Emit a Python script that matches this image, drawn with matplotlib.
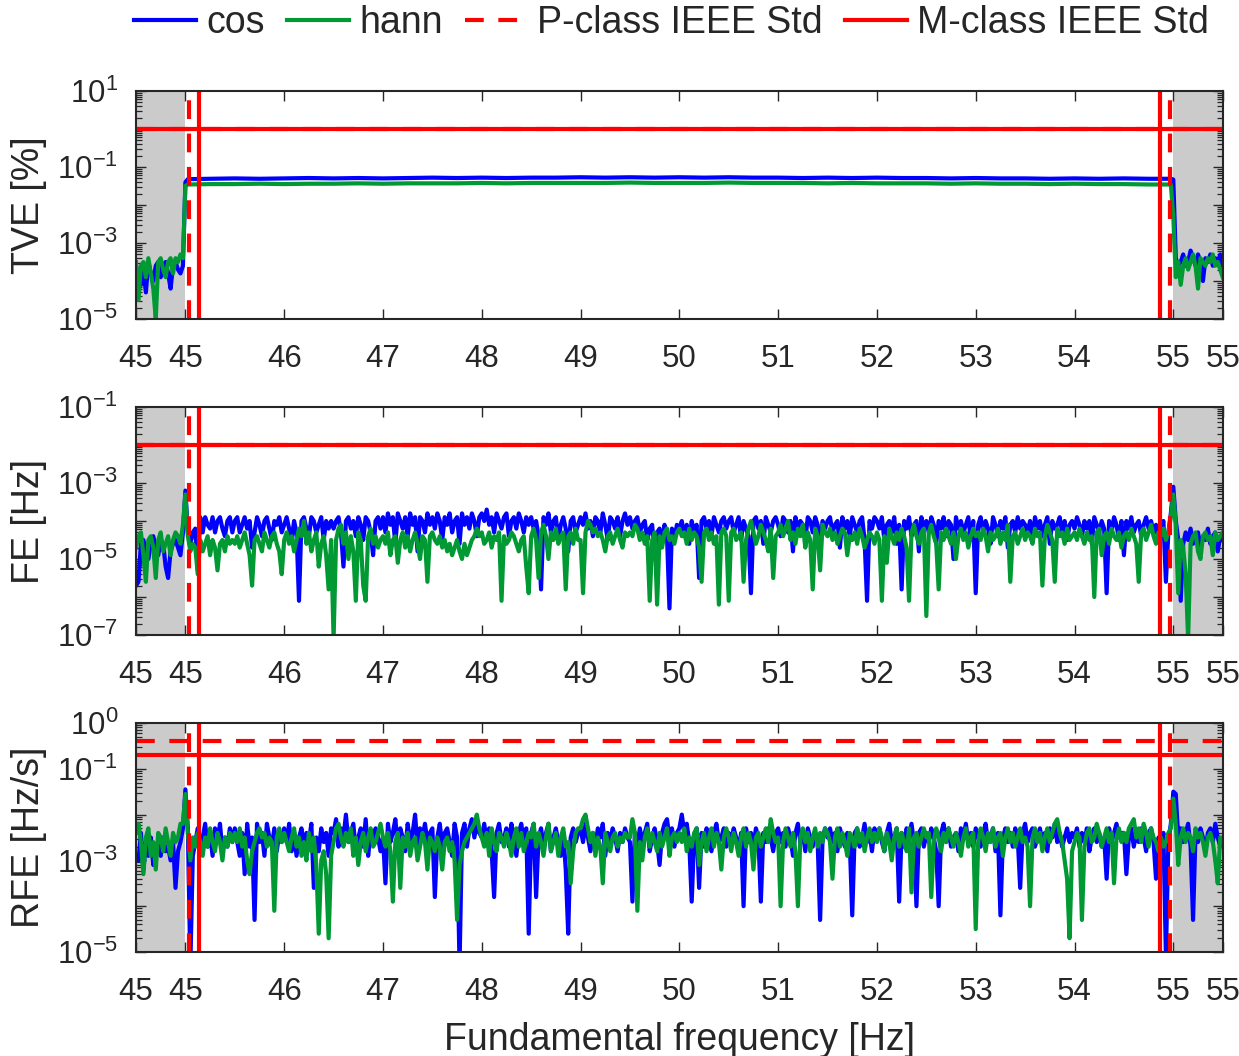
import numpy as np
import matplotlib
matplotlib.use("Agg")
import matplotlib.pyplot as plt
from matplotlib.ticker import LogLocator, NullFormatter

plt.rcParams['font.family'] = ['Liberation Sans', 'DejaVu Sans']
plt.rcParams['mathtext.fontset'] = 'custom'
plt.rcParams['mathtext.rm'] = 'Liberation Sans'
plt.rcParams['mathtext.it'] = 'Liberation Sans:italic'
plt.rcParams['mathtext.bf'] = 'Liberation Sans:bold'
plt.rcParams['mathtext.default'] = 'regular'

# ---------------------------------------------------------------- data
# frequency sweep (Hz), 0.025 Hz resolution, used for FE and RFE
freq = np.round(np.arange(44.5, 55.5 + 1e-9, 0.025), 3)

# TVE is sampled densely inside the excluded bands, coarsely on the plateau
tve_freq = np.round(np.concatenate([
    np.arange(44.5, 45.0 + 1e-9, 0.025), [45.025],
    np.arange(45.25, 54.75 + 1e-9, 0.25), [54.975],
    np.arange(55.0, 55.5 + 1e-9, 0.025)]), 3)

# log10 of TVE [%]
tve_cos_exp = [
    -3.6, -3.9, -4.1, -3.7, -4.3, -3.5, -3.8, -4.0, -3.6, -3.5,
    -3.9, -3.6, -3.5, -3.8, -4.2, -3.6, -3.5, -3.7, -3.8, -3.6, -1.4,
    -1.32, -1.31, -1.30, -1.31, -1.30, -1.29, -1.30, -1.29, -1.30, -1.29,
    -1.28, -1.29, -1.28, -1.29, -1.28, -1.28, -1.27, -1.28, -1.27, -1.28,
    -1.27, -1.28, -1.27, -1.28, -1.28, -1.29, -1.28, -1.29, -1.28, -1.29,
    -1.29, -1.30, -1.29, -1.30, -1.30, -1.31, -1.30, -1.31, -1.30, -1.31, -1.31,
    -1.33, -3.4, -3.6, -3.5, -3.3, -3.6, -3.5, -3.2, -3.4, -3.6,
    -3.3, -3.5, -4.0, -3.4, -3.5, -3.3, -3.6, -3.4, -3.5, -3.3, -3.6]
tve_hann_exp = [
    -3.5, -4.5, -3.6, -3.5, -3.9, -3.4, -3.8, -4.2, -5.0, -3.5,
    -3.4, -3.7, -3.9, -3.5, -3.4, -3.8, -3.4, -3.5, -3.3, -3.4, -1.5,
    -1.46, -1.45, -1.45, -1.44, -1.45, -1.44, -1.44, -1.43, -1.44, -1.43,
    -1.43, -1.43, -1.42, -1.43, -1.42, -1.42, -1.42, -1.42, -1.41, -1.42,
    -1.42, -1.42, -1.41, -1.42, -1.42, -1.42, -1.43, -1.42, -1.43, -1.43,
    -1.43, -1.44, -1.43, -1.44, -1.44, -1.45, -1.44, -1.45, -1.45, -1.46, -1.46,
    -2.3, -3.9, -3.5, -4.1, -3.6, -3.4, -3.7, -3.5, -3.3, -3.6,
    -4.2, -3.4, -3.5, -3.6, -3.4, -3.5, -3.3, -3.6, -3.5, -3.7, -3.9]

# log10 of FE [Hz]
fe_cos_exp = [
    -5.7, -5.6, -4.6, -4.5, -4.8, -5.0, -4.6, -4.4, -4.7, -4.9, -4.5, -4.6, -5.2, -5.5, -4.8, -4.6, -4.5, -4.7, -4.9, -4.3,
    -3.2, -4.3, -4.6, -4.3, -4.2, -5.3, -3.9, -4.3, -3.9, -4.1, -4.2, -3.9, -4.3, -4.0, -3.9, -4.2, -4.4, -4.0, -3.9, -4.3,
    -4.0, -3.9, -4.3, -4.1, -3.9, -4.2, -4.0, -4.7, -4.3, -3.9, -4.1, -4.4, -4.0, -3.9, -4.2, -4.5, -4.0, -4.1, -3.9, -4.3,
    -4.1, -3.9, -4.2, -4.5, -4.0, -4.3, -6.1, -4.0, -3.9, -4.2, -4.4, -3.9, -4.0, -4.3, -4.1, -3.9, -4.5, -4.0, -4.2, -4.0,
    -4.2, -4.0, -3.9, -4.3, -5.2, -4.0, -3.9, -4.2, -4.0, -4.4, -3.9, -4.1, -4.5, -3.9, -4.0, -4.3, -4.9, -4.0, -3.9, -4.2,
    -3.9, -4.3, -3.8, -4.1, -3.9, -4.6, -3.8, -4.0, -4.2, -3.9, -4.4, -3.8, -4.1, -3.9, -4.8, -3.9, -4.0, -4.3, -3.8, -4.1,
    -3.9, -4.2, -3.8, -4.0, -4.5, -3.9, -4.1, -3.8, -4.3, -4.0, -3.9, -4.6, -3.8, -4.1, -3.9, -4.2, -3.8, -4.0, -4.4, -3.9,
    -3.8, -4.0, -3.7, -4.1, -3.9, -4.3, -3.8, -4.0, -4.2, -3.9, -3.8, -4.4, -4.0, -3.9, -4.2, -3.8, -4.0, -4.3, -3.9, -4.1,
    -3.9, -4.2, -4.0, -4.4, -5.8, -3.9, -4.1, -3.8, -4.3, -4.0, -3.9, -4.5, -4.1, -3.9, -4.2, -4.8, -4.0, -3.9, -4.3, -4.1,
    -3.9, -4.1, -3.8, -4.2, -4.0, -4.4, -3.9, -4.0, -4.3, -3.8, -4.1, -4.5, -3.9, -4.0, -4.2, -3.9, -4.4, -4.0, -3.8, -4.1,
    -3.9, -4.2, -4.0, -3.9, -4.3, -4.1, -4.0, -4.5, -4.2, -4.1, -5.0, -4.3, -4.2, -4.6, -4.1, -4.4, -6.3, -4.2, -4.5, -4.1,
    -4.2, -4.0, -4.4, -4.1, -4.6, -4.0, -4.3, -4.1, -5.5, -4.0, -3.9, -4.2, -4.0, -4.4, -3.9, -4.1, -4.3, -4.0, -3.9, -4.2,
    -4.0, -3.9, -4.3, -4.1, -3.9, -4.5, -4.0, -4.2, -4.4, -5.9, -4.0, -3.9, -4.2, -4.0, -4.6, -3.9, -4.1, -4.3, -4.0, -3.9,
    -4.1, -4.4, -3.9, -4.0, -4.3, -4.0, -4.8, -3.9, -4.2, -4.0, -4.1, -4.5, -3.9, -4.0, -4.3, -3.9, -4.1, -4.6, -4.0, -4.2,
    -4.0, -3.9, -4.3, -4.1, -4.0, -4.7, -3.9, -4.2, -4.0, -4.4, -3.9, -4.1, -4.3, -4.0, -3.9, -4.5, -6.1, -4.0, -4.2, -3.9,
    -4.0, -4.2, -3.9, -4.5, -4.1, -4.0, -4.3, -3.9, -4.6, -4.1, -5.8, -4.0, -4.2, -3.9, -4.4, -4.1, -4.0, -4.8, -3.9, -4.2,
    -4.0, -4.3, -3.9, -4.1, -4.6, -4.0, -4.2, -3.9, -4.4, -4.0, -4.1, -5.0, -3.9, -4.2, -4.0, -4.3, -4.1, -3.9, -4.5, -4.0,
    -5.9, -4.1, -3.9, -4.3, -4.0, -4.2, -4.6, -3.9, -4.1, -4.4, -4.0, -4.2, -3.9, -4.7, -4.1, -4.0, -4.3, -3.9, -4.2, -4.0,
    -4.1, -4.3, -4.0, -4.5, -3.9, -4.2, -4.0, -4.4, -4.1, -3.9, -4.6, -4.0, -4.2, -4.1, -3.9, -4.3, -4.0, -4.5, -4.1, -4.0,
    -4.2, -3.9, -4.1, -4.4, -4.0, -4.2, -4.0, -4.6, -3.9, -4.1, -4.3, -4.0, -4.2, -5.9, -4.0, -4.3, -3.9, -4.1, -4.5, -4.0,
    -4.9, -4.0, -4.2, -3.9, -4.3, -4.1, -4.0, -4.4, -4.1, -3.9, -4.2, -4.0, -4.3, -4.1, -4.5, -4.2, -4.0, -5.6, -4.3, -3.8,
    -3.1, -4.0, -4.5, -6.1, -4.6, -4.3, -4.5, -4.2, -4.6, -4.4, -4.3, -4.7, -4.4, -4.5, -4.2, -4.6, -4.4, -4.3, -4.8, -4.4,
    -4.5]
fe_hann_exp = [
    -4.7, -4.4, -4.3, -4.9, -5.6, -4.5, -4.4, -4.7, -5.5, -4.5, -4.3, -4.8, -4.6, -4.4, -4.9, -4.5, -4.3, -4.4, -4.6, -4.1,
    -3.3, -4.4, -4.8, -4.6, -4.7, -5.4, -4.5, -4.8, -4.6, -4.4, -4.9, -4.5, -4.7, -5.3, -4.6, -4.5, -4.8, -4.4, -4.6, -4.5,
    -4.6, -4.4, -4.7, -4.5, -4.3, -4.6, -4.9, -5.7, -4.5, -4.4, -4.6, -4.8, -4.3, -4.5, -4.7, -4.4, -4.3, -4.6, -4.8, -5.4,
    -4.5, -4.3, -4.6, -4.4, -4.8, -4.5, -4.2, -4.4, -4.0, -4.6, -4.3, -4.8, -4.5, -4.3, -5.2, -4.6, -4.4, -4.9, -5.8, -4.5,
    -7.1, -4.5, -4.2, -4.1, -4.6, -4.3, -5.0, -4.4, -4.8, -6.1, -4.3, -4.5, -5.7, -6.1, -4.4, -4.2, -4.6, -4.4, -4.7, -4.5,
    -4.4, -4.6, -4.3, -4.9, -4.5, -4.4, -5.1, -4.5, -4.3, -4.7, -4.4, -4.8, -4.5, -4.3, -4.6, -5.0, -4.4, -4.5, -5.6, -4.4,
    -4.3, -4.5, -4.6, -4.4, -4.7, -4.5, -4.8, -4.6, -4.9, -4.7, -4.5, -4.8, -5.0, -4.6, -4.9, -4.7, -4.5, -4.4, -4.2, -4.4,
    -4.3, -4.6, -4.5, -4.3, -4.7, -4.4, -4.5, -4.3, -6.1, -4.4, -4.6, -4.5, -4.3, -4.4, -4.6, -4.8, -4.5, -4.4, -5.2, -5.9,
    -4.4, -4.2, -4.5, -5.5, -4.3, -4.1, -4.4, -5.0, -4.3, -4.5, -4.2, -4.6, -4.4, -4.3, -5.8, -4.4, -4.3, -4.6, -4.2, -4.5,
    -4.5, -5.9, -4.3, -4.0, -4.1, -4.3, -4.2, -4.4, -4.3, -4.5, -4.8, -4.4, -4.3, -4.6, -4.4, -4.2, -4.5, -4.7, -4.3, -4.4,
    -4.3, -4.4, -4.1, -4.2, -4.5, -4.3, -4.6, -4.4, -6.1, -4.5, -4.3, -6.2, -4.4, -4.7, -4.3, -4.2, -4.5, -4.4, -4.6, -4.3,
    -4.2, -4.4, -4.3, -4.6, -4.2, -4.5, -4.3, -4.4, -4.7, -5.6, -4.3, -4.2, -4.5, -4.3, -4.6, -4.4, -6.2, -4.3, -4.2, -4.4,
    -6.1, -4.3, -4.2, -4.5, -4.4, -4.3, -5.6, -4.5, -4.2, -4.0, -4.3, -4.6, -4.4, -4.1, -4.3, -4.5, -4.8, -4.2, -5.5, -4.4,
    -4.3, -4.1, -4.4, -4.2, -4.0, -4.5, -4.3, -4.6, -4.2, -4.4, -4.1, -4.7, -4.3, -4.5, -5.8, -4.2, -4.4, -5.3, -4.1, -4.3,
    -4.4, -4.2, -4.5, -4.3, -4.6, -4.4, -4.2, -4.3, -4.9, -4.4, -4.5, -4.3, -4.6, -4.2, -4.4, -4.7, -4.5, -4.3, -4.4, -4.6,
    -4.3, -4.5, -6.1, -4.4, -5.1, -4.2, -4.4, -4.6, -4.3, -4.5, -4.2, -4.4, -4.7, -6.1, -4.3, -4.1, -4.4, -4.6, -4.3, -4.2,
    -6.5, -4.3, -4.1, -4.4, -4.6, -5.8, -4.3, -4.5, -4.2, -4.4, -4.6, -4.3, -5.0, -4.4, -4.2, -4.5, -4.3, -4.7, -4.4, -4.2,
    -4.4, -4.3, -4.5, -4.2, -4.4, -4.8, -4.3, -4.5, -4.4, -4.2, -4.6, -4.3, -4.5, -4.1, -5.6, -4.4, -4.3, -4.6, -4.4, -4.2,
    -4.5, -4.3, -4.4, -4.6, -4.2, -4.4, -4.3, -5.7, -4.4, -4.1, -4.3, -4.5, -5.6, -4.2, -4.4, -4.3, -4.6, -4.2, -4.5, -4.4,
    -4.3, -4.5, -4.2, -4.4, -4.6, -4.3, -4.5, -4.4, -6.0, -4.3, -4.2, -4.9, -4.4, -4.3, -4.6, -4.2, -4.4, -4.5, -4.3, -4.7,
    -4.4, -4.3, -4.5, -4.2, -4.4, -4.6, -5.6, -4.3, -4.2, -4.5, -4.3, -4.1, -4.4, -4.6, -4.3, -4.4, -4.2, -4.5, -4.3, -3.9,
    -3.3, -4.1, -5.9, -4.5, -4.7, -5.4, -7.1, -4.6, -4.4, -4.3, -4.8, -5.0, -4.4, -4.3, -4.5, -4.4, -4.9, -4.3, -4.5, -4.4,
    -4.3]

# log10 of RFE [Hz/s]
rfe_cos_exp = [
    -2.9, -3.0, -2.4, -3.2, -2.6, -2.9, -2.5, -3.1, -2.7, -2.6, -2.9, -2.5, -2.8, -2.7, -3.0, -2.6, -3.6, -2.8, -2.6, -2.3,
    -1.45, -2.3, -5.3, -2.9, -2.6, -2.3, -2.8, -2.5, -2.2, -2.7, -2.4, -2.9, -2.3, -2.6, -2.2, -2.8, -2.5, -2.7, -2.3, -2.6,
    -2.3, -2.6, -2.9, -2.4, -3.3, -2.2, -2.7, -2.5, -4.3, -2.2, -2.6, -2.4, -2.9, -2.2, -2.5, -2.7, -2.3, -2.8, -2.4, -2.6,
    -2.3, -2.6, -2.2, -2.8, -2.4, -2.9, -2.5, -2.3, -2.7, -2.4, -2.6, -2.2, -3.6, -2.5, -2.8, -2.3, -2.6, -2.4, -2.9, -2.3,
    -2.4, -2.1, -2.7, -2.3, -2.5, -2.0, -2.6, -2.4, -2.2, -2.8, -2.5, -2.3, -2.7, -2.1, -2.9, -2.4, -2.6, -2.3, -2.5, -2.8,
    -2.5, -3.5, -2.2, -2.6, -2.4, -2.1, -2.7, -2.3, -2.5, -2.8, -2.2, -2.6, -2.4, -2.0, -2.7, -2.3, -2.5, -2.2, -2.6, -2.4,
    -2.3, -3.8, -2.5, -2.2, -2.7, -2.4, -2.3, -2.6, -2.9, -2.2, -2.5, -5.3, -2.4, -2.2, -2.7, -2.3, -2.1, -2.5, -2.2, -2.4,
    -2.5, -2.2, -2.6, -2.3, -2.8, -3.8, -2.4, -2.2, -2.6, -2.5, -2.3, -2.7, -2.2, -2.5, -2.9, -2.4, -2.2, -2.6, -2.3, -4.6,
    -2.4, -2.2, -3.8, -2.5, -2.3, -2.7, -2.4, -2.2, -2.8, -2.5, -2.3, -2.6, -2.9, -2.4, -3.2, -4.6, -2.5, -2.3, -2.6, -2.4,
    -2.3, -2.6, -2.2, -2.5, -2.8, -2.4, -2.7, -2.3, -2.5, -2.2, -2.9, -2.4, -2.6, -2.3, -2.5, -2.8, -2.4, -2.6, -2.3, -2.5,
    -2.6, -3.9, -2.4, -2.7, -2.3, -2.6, -2.4, -2.2, -2.8, -2.5, -2.3, -2.6, -3.1, -2.4, -2.2, -2.1, -2.5, -2.3, -2.7, -2.4,
    -2.3, -2.0, -2.4, -2.2, -2.6, -3.9, -2.5, -2.3, -3.6, -2.4, -2.7, -2.3, -2.5, -2.8, -2.4, -2.2, -2.6, -2.5, -2.3, -2.7,
    -2.4, -2.6, -2.3, -2.5, -2.8, -2.4, -4.0, -2.3, -2.6, -2.4, -2.7, -2.3, -2.5, -3.9, -2.4, -2.6, -2.3, -2.5, -2.8, -2.4,
    -2.3, -2.6, -2.4, -2.7, -2.3, -2.5, -2.9, -2.4, -2.2, -2.6, -2.4, -2.8, -2.3, -2.5, -2.7, -2.4, -2.6, -4.3, -2.5, -2.3,
    -2.5, -2.3, -2.6, -2.4, -2.8, -2.3, -2.5, -2.7, -2.4, -2.6, -4.2, -2.4, -2.3, -2.7, -2.5, -2.2, -2.6, -2.4, -2.8, -2.3,
    -2.5, -2.3, -2.6, -2.8, -2.4, -2.2, -2.6, -2.5, -2.3, -3.9, -2.4, -2.7, -2.3, -2.5, -2.2, -2.6, -4.0, -2.4, -2.3, -2.7,
    -2.4, -2.6, -2.3, -2.5, -2.8, -4.0, -2.4, -2.2, -2.6, -2.3, -2.7, -2.5, -2.4, -2.8, -2.3, -2.5, -2.2, -2.6, -2.4, -2.7,
    -2.3, -2.5, -2.7, -2.4, -2.2, -2.6, -2.5, -2.3, -2.8, -2.4, -4.2, -2.5, -2.3, -2.6, -2.4, -2.7, -2.3, -2.5, -3.6, -2.4,
    -2.2, -2.6, -2.4, -2.3, -2.7, -2.5, -2.3, -2.6, -2.4, -2.8, -2.3, -2.5, -2.2, -2.6, -2.4, -2.7, -2.5, -2.3, -2.6, -2.4,
    -2.5, -2.3, -2.7, -2.4, -2.6, -2.3, -2.8, -2.5, -2.3, -2.6, -2.4, -2.7, -2.5, -3.4, -2.3, -2.6, -2.4, -2.2, -2.5, -2.4,
    -2.4, -3.3, -2.5, -2.3, -2.7, -2.4, -2.6, -2.3, -2.5, -2.8, -2.4, -2.3, -2.6, -3.4, -2.5, -2.7, -2.4, -5.1, -2.6, -2.2,
    -1.5, -1.55, -2.5, -2.3, -2.6, -2.4, -2.2, -2.7, -4.3, -2.4, -2.6, -2.3, -2.5, -2.8, -2.4, -2.3, -2.6, -2.2, -2.5, -2.7,
    -2.6]
rfe_hann_exp = [
    -2.4, -2.2, -2.6, -3.3, -2.5, -2.3, -2.9, -2.6, -3.2, -2.4, -2.5, -2.8, -2.3, -2.6, -2.9, -2.4, -2.6, -2.5, -2.2, -2.2,
    -1.55, -2.4, -3.0, -2.5, -2.7, -2.4, -2.6, -2.9, -2.5, -2.7, -2.3, -2.6, -2.8, -2.4, -2.6, -3.0, -2.5, -2.7, -2.4, -2.6,
    -2.4, -2.6, -2.3, -2.7, -2.5, -3.0, -3.3, -2.8, -2.6, -2.4, -2.3, -2.5, -2.4, -2.7, -2.5, -2.6, -4.1, -2.5, -2.3, -2.6,
    -2.4, -2.6, -2.8, -2.5, -2.3, -2.7, -2.5, -2.9, -2.6, -3.0, -2.4, -2.8, -2.5, -3.1, -4.6, -3.0, -2.8, -3.3, -4.7, -2.9,
    -2.6, -2.3, -2.2, -2.5, -2.7, -2.4, -2.6, -2.3, -2.9, -2.5, -3.1, -2.6, -2.4, -2.8, -2.5, -2.3, -2.7, -2.6, -2.4, -2.2,
    -2.5, -2.7, -2.4, -2.8, -3.9, -2.6, -2.4, -3.6, -2.5, -2.7, -2.4, -2.9, -2.6, -2.5, -3.0, -2.7, -2.4, -2.6, -3.2, -2.5,
    -2.6, -2.8, -2.5, -2.7, -3.2, -2.6, -2.5, -2.8, -2.6, -3.0, -4.3, -3.1, -2.8, -2.6, -2.5, -2.4, -2.3, -2.2, -2.0, -2.3,
    -2.5, -2.7, -2.4, -2.9, -2.3, -2.6, -2.8, -2.4, -2.5, -2.7, -2.4, -2.6, -2.9, -2.5, -2.3, -2.7, -2.4, -2.8, -2.6, -2.4,
    -2.5, -2.2, -2.7, -2.4, -2.6, -2.9, -2.5, -2.2, -2.8, -2.6, -2.4, -2.9, -2.5, -2.3, -2.7, -2.6, -3.5, -2.8, -2.4, -2.3,
    -2.3, -2.1, -2.0, -2.3, -2.6, -2.4, -2.9, -2.5, -2.7, -3.5, -2.4, -2.6, -2.8, -2.5, -2.4, -2.7, -2.5, -2.6, -2.4, -2.5,
    -2.5, -2.1, -2.4, -4.1, -2.6, -3.0, -2.5, -2.3, -2.7, -2.4, -2.6, -2.8, -2.4, -2.7, -2.5, -2.3, -2.9, -2.5, -2.4, -2.6,
    -2.4, -2.6, -2.3, -2.8, -2.5, -2.7, -2.4, -2.3, -3.1, -2.6, -2.4, -2.8, -2.5, -2.3, -2.7, -2.4, -2.6, -3.2, -2.5, -2.3,
    -2.5, -2.8, -2.4, -2.6, -2.9, -2.5, -2.3, -2.7, -2.4, -2.6, -3.2, -2.5, -2.4, -2.7, -2.5, -2.3, -2.6, -2.1, -2.4, -2.6,
    -2.5, -4.0, -2.6, -2.3, -2.5, -2.7, -2.4, -2.8, -4.0, -2.5, -2.3, -2.6, -2.4, -2.8, -2.5, -2.3, -2.7, -2.4, -2.6, -2.3,
    -2.4, -2.6, -3.4, -2.5, -2.3, -2.7, -2.4, -2.6, -2.9, -2.4, -2.5, -2.7, -2.3, -2.6, -2.4, -2.8, -2.5, -2.3, -2.6, -2.4,
    -2.6, -2.3, -2.5, -2.8, -2.4, -2.6, -3.0, -2.5, -2.3, -2.7, -2.4, -2.6, -2.8, -2.3, -3.7, -2.5, -2.4, -2.7, -2.5, -2.3,
    -2.5, -2.4, -3.8, -2.6, -2.3, -2.5, -2.8, -2.4, -2.6, -2.3, -2.5, -2.7, -2.4, -2.6, -2.9, -2.5, -2.3, -2.7, -2.5, -2.4,
    -4.5, -2.6, -2.3, -2.5, -2.8, -2.4, -2.6, -2.3, -2.7, -2.5, -2.4, -2.9, -2.5, -2.3, -2.6, -2.4, -2.7, -2.5, -2.3, -2.6,
    -2.5, -2.7, -4.0, -2.5, -2.3, -2.6, -2.4, -2.8, -2.5, -2.3, -2.6, -2.4, -2.2, -2.1, -2.4, -2.6, -3.0, -3.4, -4.7, -2.8,
    -2.6, -2.4, -2.5, -4.3, -2.7, -2.4, -2.3, -2.6, -2.5, -2.2, -2.4, -2.7, -2.5, -2.3, -2.6, -2.4, -3.5, -2.5, -2.3, -2.6,
    -2.4, -2.6, -2.3, -2.2, -2.1, -2.5, -2.3, -2.6, -2.2, -2.4, -2.7, -2.3, -2.5, -2.6, -2.8, -2.5, -2.7, -2.6, -2.4, -2.3,
    -1.65, -2.2, -3.1, -2.5, -2.3, -2.6, -2.4, -2.5, -2.8, -2.3, -2.5, -2.4, -2.6, -2.9, -2.5, -2.4, -2.6, -3.0, -3.5, -2.5,
    -2.5]

# IEEE Std limits: (P-class, M-class) for TVE [%], FE [Hz], RFE [Hz/s]
tve_limits = (1.0, 1.0)
fe_limits = (0.01, 0.01)
rfe_limits = (0.4, 0.2)

# start/end of the evaluation window for each class (Hz)
p_class_window = (45.035, 54.965)
m_class_window = (45.135, 54.865)
# excluded bands (shaded)
excluded_bands = [(44.5, 45.0), (55.0, 55.5)]

x_ticks = [44.5, 45, 46, 47, 48, 49, 50, 51, 52, 53, 54, 55, 55.5]
x_tick_labels = ['45', '45', '46', '47', '48', '49', '50', '51', '52', '53', '54', '55', '55']

# ---------------------------------------------------------------- style
C_COS = '#0000ff'
C_HANN = '#009933'
C_RED = '#ff0000'
C_SHADE = '#cbcbcb'
C_AX = '#262626'
FS_TICK = 22.5
FS_LABEL = 27
DASH = (0, (4.5, 3.5))

panels = [
    dict(x=tve_freq, cos=tve_cos_exp, hann=tve_hann_exp, lim=tve_limits,
         ylabel='TVE [%]', yexp=(-5, 1), ylab_exp=[1, -1, -3, -5]),
    dict(x=freq, cos=fe_cos_exp, hann=fe_hann_exp, lim=fe_limits,
         ylabel='FE [Hz]', yexp=(-7, -1), ylab_exp=[-1, -3, -5, -7]),
    dict(x=freq, cos=rfe_cos_exp, hann=rfe_hann_exp, lim=rfe_limits,
         ylabel='RFE [Hz/s]', yexp=(-5, 0), ylab_exp=[0, -1, -3, -5]),
]

W, H = 1239, 1056
fig = plt.figure(figsize=(W / 100, H / 100), dpi=100)
left = 136 / W
width = (1222.7 - 136) / W
boxes = [(91, 319), (407, 635), (723, 952)]

handles = None
for p, (top_px, bot_px) in zip(panels, boxes):
    ax = fig.add_axes([left, 1 - bot_px / H, width, (bot_px - top_px) / H])
    lo, hi = p['yexp']
    ax.set_yscale('log')
    ax.set_xlim(44.5, 55.5)
    ax.set_ylim(10.0 ** lo, 10.0 ** hi)

    for a, b in excluded_bands:
        ax.axvspan(a, b, color=C_SHADE, zorder=0, lw=0)

    h_cos, = ax.plot(p['x'], 10.0 ** np.asarray(p['cos']), color=C_COS, lw=3,
                     zorder=2, solid_joinstyle='round')
    h_hann, = ax.plot(p['x'], 10.0 ** np.asarray(p['hann']), color=C_HANN, lw=3,
                      zorder=3, solid_joinstyle='round')

    p_lim, m_lim = p['lim']
    h_p = ax.axhline(p_lim, color=C_RED, lw=3, ls=DASH, zorder=4)
    h_m = ax.axhline(m_lim, color=C_RED, lw=3, zorder=4)
    for xv in p_class_window:
        ax.axvline(xv, color=C_RED, lw=3, ls=DASH, zorder=4)
    for xv in m_class_window:
        ax.axvline(xv, color=C_RED, lw=3, zorder=4)

    if handles is None:
        handles = [h_cos, h_hann, h_p, h_m]

    # axis styling
    yt = [10.0 ** e for e in range(lo, hi + 1)]
    ytl = ['$10^{%d}$' % e if e in p['ylab_exp'] else '' for e in range(lo, hi + 1)]
    ax.set_yticks(yt, ytl)
    ax.yaxis.set_minor_locator(LogLocator(base=10, subs=np.arange(2, 10), numticks=100))
    ax.yaxis.set_minor_formatter(NullFormatter())
    ax.set_xticks(x_ticks, x_tick_labels)
    ax.tick_params(axis='both', which='both', direction='in', top=True, right=True,
                   color=C_AX, labelcolor=C_AX, labelsize=FS_TICK)
    ax.tick_params(axis='both', which='major', length=7.5, width=1.0)
    ax.tick_params(axis='y', which='minor', length=4, width=0.9)
    ax.tick_params(axis='x', which='major', pad=18)
    ax.tick_params(axis='y', which='major', pad=13)
    for s in ax.spines.values():
        s.set_color(C_AX)
        s.set_linewidth(1.5)
        s.set_zorder(6)
    ax.set_ylabel(p['ylabel'], fontsize=FS_LABEL, color=C_AX)
    ax.yaxis.set_label_coords(-0.082, 0.5)
    last_ax = ax

last_ax.set_xlabel('Fundamental frequency [Hz]', fontsize=FS_LABEL, color=C_AX)
last_ax.xaxis.set_label_coords(0.5, -0.305)

fig.legend(handles, ['cos', 'hann', 'P-class IEEE Std', 'M-class IEEE Std'],
           loc='center', bbox_to_anchor=(0.542, 1 - 23 / H), ncol=4, frameon=False,
           fontsize=FS_LABEL, handlelength=1.65, handletextpad=0.27, columnspacing=0.6,
           borderaxespad=0, labelcolor=C_AX)

fig.savefig('out.png', dpi=100)
